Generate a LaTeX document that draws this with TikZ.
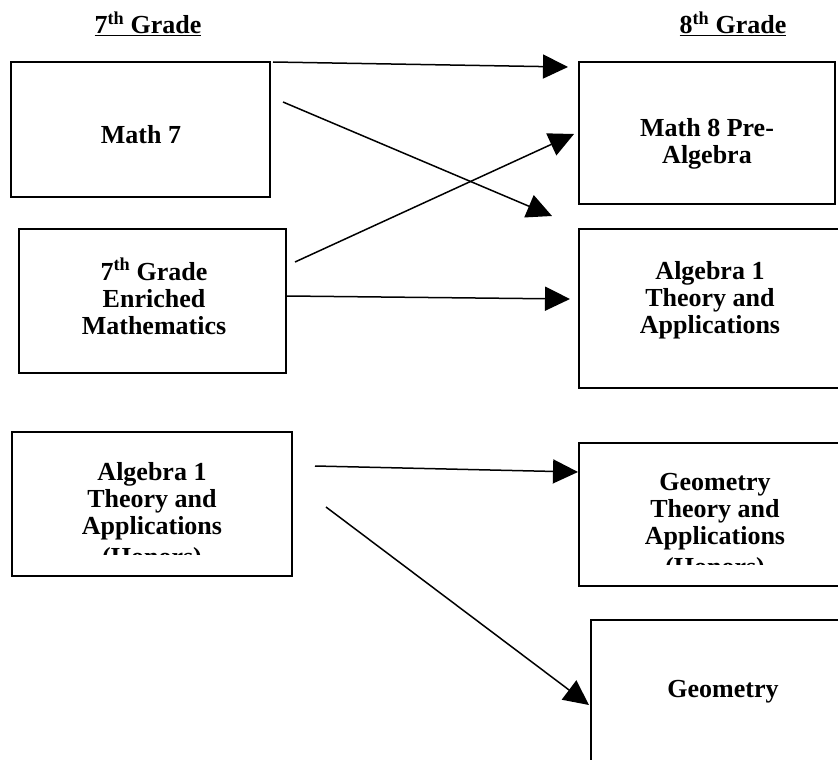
\documentclass[tikz,border=0pt]{standalone}
\usepackage{fontspec}
\setmainfont{Liberation Serif}
\usetikzlibrary{arrows.meta}
\begin{document}
\begin{tikzpicture}[x=1pt,y=-1pt,
  box/.style={draw, line width=1.6pt, inner sep=0pt, outer sep=0pt, anchor=north west},
  lbl/.style={font=\fontsize{26}{27}\selectfont\bfseries, anchor=base, inner sep=0pt},
  arr/.style={line width=1.5pt, -{Triangle[length=25pt,width=24pt]}}]
\clip (0,0) rectangle (838,760);
\fill[white] (0,0) rectangle (838,760);
% headings
\node[lbl] (h7) at (148,34) {\underline{7\textsuperscript{th} Grade}};
\node[lbl] (h8) at (733,34) {\underline{8\textsuperscript{th} Grade}};
% left boxes
\node[box, minimum width=259pt, minimum height=135pt] (math7) at (11,62) {};
\node[lbl] (math7t) at (141,143) {Math 7};
\node[box, minimum width=267pt, minimum height=144pt] (enr) at (19,229) {};
\node[lbl] (enra) at (154,280) {7\textsuperscript{th} Grade};
\node[lbl] (enrb) at (154,307) {Enriched};
\node[lbl] (enrc) at (154,334) {Mathematics};
\node[box, minimum width=280pt, minimum height=144pt] (alh) at (12,432) {};
\begin{scope}
\clip (12,432) rectangle (292,554);
\node[lbl] (alha) at (152,480) {Algebra 1};
\node[lbl] (alhb) at (152,507) {Theory and};
\node[lbl] (alhc) at (152,534) {Applications};
\node[lbl] (alhd) at (152,565) {(Honors)};
\end{scope}
% right boxes
\node[box, minimum width=256pt, minimum height=142pt] (m8) at (579,62) {};
\node[lbl] (m8a) at (707,136) {Math 8 Pre-};
\node[lbl] (m8b) at (707,163) {Algebra};
\node[box, minimum width=262pt, minimum height=159pt] (alr) at (579,229) {};
\node[lbl] (alra) at (710,279) {Algebra 1};
\node[lbl] (alrb) at (710,306) {Theory and};
\node[lbl] (alrc) at (710,333) {Applications};
\node[box, minimum width=272pt, minimum height=143pt] (geh) at (579,443) {};
\begin{scope}
\clip (579,443) rectangle (851,564);
\node[lbl] (geha) at (715,490) {Geometry};
\node[lbl] (gehb) at (715,517) {Theory and};
\node[lbl] (gehc) at (715,544) {Applications};
\node[lbl] (gehd) at (715,575) {(Honors)};
\end{scope}
\node[box, minimum width=264pt, minimum height=180pt] (geo) at (591,620) {};
\node[lbl] (geot) at (723,697) {Geometry};
% arrow endpoints
\coordinate (a1s) at (273,62);  \coordinate (a1e) at (568,67);
\coordinate (a2s) at (283,102); \coordinate (a2e) at (552,216);
\coordinate (a3s) at (295,262); \coordinate (a3e) at (574,134);
\coordinate (a4s) at (287,296); \coordinate (a4e) at (570,299);
\coordinate (a5s) at (315,466); \coordinate (a5e) at (578,472);
\coordinate (a6s) at (326,507); \coordinate (a6e) at (589,705);
\draw[arr] (a1s) -- (a1e);
\draw[arr] (a2s) -- (a2e);
\draw[arr] (a3s) -- (a3e);
\draw[arr] (a4s) -- (a4e);
\draw[arr] (a5s) -- (a5e);
\draw[arr] (a6s) -- (a6e);
\end{tikzpicture}
\end{document}
